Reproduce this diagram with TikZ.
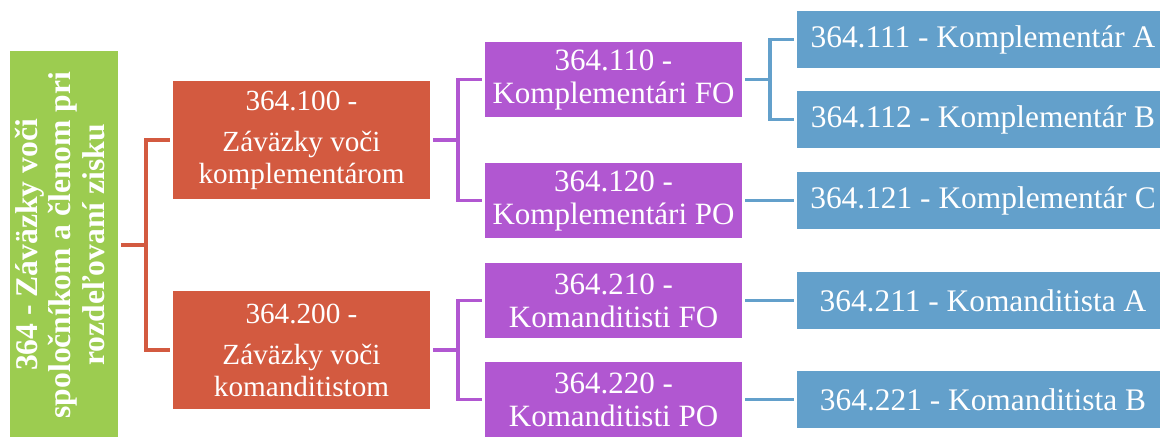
\documentclass[tikz,border=0pt]{standalone}
\usepackage{fontspec}
\setmainfont{Liberation Serif}
\usepackage{graphicx}
\usepackage{tikz}
\usetikzlibrary{trees}
\definecolor{grn}{RGB}{156,204,80}
\definecolor{redc}{RGB}{211,90,64}
\definecolor{purp}{RGB}{177,87,209}
\definecolor{blu}{RGB}{99,160,203}
\tikzset{
    basic/.style  = {rectangle, inner sep=0pt, text=white, align=center},
    root/.style   = {basic, fill=grn, minimum width=54pt, minimum height=194pt,
                     font=\fontsize{15.8}{16.8}\selectfont\bfseries},
    acct/.style   = {basic, fill=redc, minimum width=128.5pt, minimum height=59pt,
                     font=\fontsize{14.6}{16}\selectfont},
    subacct/.style = {basic, fill=purp, minimum width=128.5pt, minimum height=37.5pt,
                     font=\fontsize{15.5}{16.5}\selectfont},
    anal/.style   = {basic, fill=blu, minimum width=186pt, minimum height=28.5pt,
                     font=\fontsize{15.7}{16.5}\selectfont},
    fork/.style   = {draw=#1, line width=1.7pt}
}

\begin{document}
\begin{tikzpicture}[x=0.5pt, y=-0.5pt,
	grow'=right, parent anchor=east, child anchor=west,
	edge from parent path={([xshift=1.5pt]\tikzparentnode\tikzparentanchor) -- ++(12.25pt,0)
		|- ([xshift=-1.5pt]\tikzchildnode\tikzchildanchor)},
	level 1/.style={level distance=118.75pt, sibling distance=105pt, edge from parent/.style={fork=redc}},
	level 2/.style={level distance=156pt, edge from parent/.style={fork=purp}},
	level 3/.style={level distance=184.75pt, sibling distance=40pt, edge from parent/.style={fork=blu}}]
		\clip (0,0) rectangle (1160,437);
		\node[root] (z364) at (64,245) {\rotatebox{90}{\begin{tabular}{@{}c@{}}364 - Záväzky voči\\
			spoločníkom a členom pri\\ rozdeľovaní zisku\end{tabular}}}
			child{node[acct] (z100) {364.100 -\\[4.5pt] Záväzky voči\\ komplementárom}
				child[sibling distance=60.5pt]{node[subacct] (z110) {364.110 -\\ Komplementári FO}
					child{node[anal] (z111) {364.111 - Komplementár A}}
					child{node[anal] (z112) {364.112 - Komplementár B}}}
				child[sibling distance=60.5pt]{node[subacct] (z120) {364.120 -\\ Komplementári PO}
					child{node[anal] (z121) {364.121 - Komplementár C}}}}
			child{node[acct] (z200) {364.200 -\\[4.5pt] Záväzky voči\\ komanditistom}
				child[sibling distance=49.5pt]{node[subacct] (z210) {364.210 -\\ Komanditisti FO}
					child{node[anal] (z211) {364.211 - Komanditista A}}}
				child[sibling distance=49.5pt]{node[subacct] (z220) {364.220 -\\ Komanditisti PO}
					child{node[anal] (z221) {364.221 - Komanditista B}}}};
	\end{tikzpicture}
\end{document}
